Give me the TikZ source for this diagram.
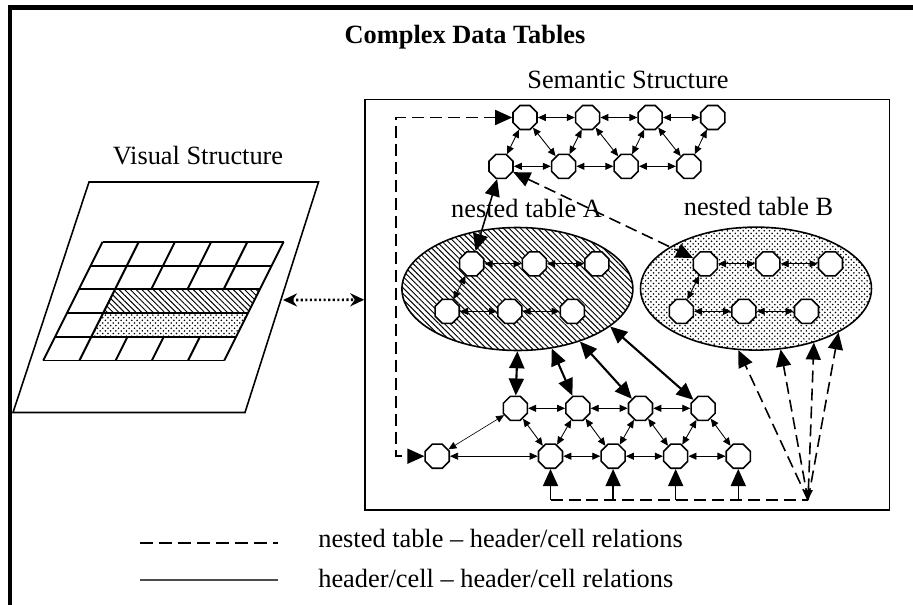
\documentclass[tikz,border=0pt]{standalone}
\usepackage{fontspec}
\setmainfont{Liberation Serif}
\usetikzlibrary{shapes.geometric, arrows.meta, positioning, patterns, patterns.meta}
\tikzstyle{cell} = [regular polygon, regular polygon sides=8, draw, fill=white, minimum size=0.52cm, inner sep=0pt, line width=0.9pt]
\tikzstyle{group} = [ellipse, draw, line width=0.9pt, minimum width=4.62cm, minimum height=2.46cm]
\tikzstyle{hatch} = [pattern={Lines[angle=-45, distance=2.3pt, line width=0.55pt]}]
\tikzstyle{heading} = [anchor=base, font=\fontsize{15}{18}\selectfont\bfseries]
\tikzstyle{textlbl} = [anchor=base, inner sep=0pt]
\tikzstyle{link} = [<->, >={Triangle[length=0.16cm, width=0.14cm]}, line width=0.5pt]
\tikzstyle{thinlink} = [link, line width=0.35pt]
\tikzstyle{bond} = [<->, >={Triangle[length=0.34cm, width=0.3cm]}, line width=1.2pt]
\tikzstyle{nest} = [bond, dash pattern=on 0.24cm off 0.12cm, line width=0.9pt]
\tikzstyle{visual} = [<->, >={Stealth[length=0.28cm, width=0.26cm]}, dash pattern=on 1.2pt off 1.4pt, line width=1.5pt]

\begin{document}
\begin{tikzpicture}[x=0.02cm, y=-0.02cm, node distance=0.74cm, font=\fontsize{15}{18}\selectfont]
  \useasboundingbox (0,0) rectangle (913,605);
  % frame
  \draw [line width=0.1cm] (10,605) -- (10,7.5) -- (913,7.5);
  \node (title) [heading] at (465,43) {Complex Data Tables};

  % visual structure
  \node (vislbl) [textlbl] at (198,164) {Visual Structure};
  \draw [line width=0.9pt] (89,182) -- (318.5,182) -- (245,412.5) -- (13,412.5) -- cycle;
  \begin{scope}[shift={(102.6,241.8)}, xslant=0.5, xscale=36.2, yscale=23.74]
    \fill [hatch] (1,2) rectangle (5,3);
    \fill [pattern=crosshatch dots] (1,3) rectangle (5,4);
    \foreach \j in {0,...,5} \draw [line width=1.1pt] (0,\j) -- (5,\j);
    \foreach \i in {0,1,5} \draw [line width=1.1pt] (\i,0) -- (\i,5);
    \foreach \i in {2,3,4} \draw [line width=1.1pt] (\i,0) -- (\i,2) (\i,4) -- (\i,5);
  \end{scope}
  \coordinate (visR) at (283,300);

  % semantic structure
  \node (semlbl) [textlbl] at (628,88) {Semantic Structure};
  \node (sem) [draw, line width=0.9pt, minimum width=10.49cm, minimum height=8.21cm] at (627.25,304.75) {};
  \draw [visual] (visR) -- ([yshift=0.1cm]sem.west);

  % header rows
  \node (t1) [cell] at (525,117.5) {};
  \node (t2) [cell, right= of t1] {};
  \node (t3) [cell, right= of t2] {};
  \node (t4) [cell, right= of t3] {};
  \node (s1) [cell] at (501,166.3) {};
  \node (s2) [cell, right= of s1] {};
  \node (s3) [cell, right= of s2] {};
  \node (s4) [cell, right= of s3] {};
  \draw [link] (t1) -- (t2);
  \draw [link] (t2) -- (t3);
  \draw [link] (t3) -- (t4);
  \draw [link] (s1) -- (s2);
  \draw [link] (s2) -- (s3);
  \draw [link] (s3) -- (s4);
  \draw [link] (t1) -- (s1);
  \draw [link] (t1) -- (s2);
  \draw [link] (t2) -- (s2);
  \draw [link] (t2) -- (s3);
  \draw [link] (t3) -- (s3);
  \draw [link] (t3) -- (s4);
  \draw [link] (t4) -- (s4);

  % nested table A
  \node (ellA) [group, hatch] at (517.4,289) {};
  \node (lblA) [textlbl] at (526.5,217) {nested table A};
  \node (a1) [cell] at (471.7,263.8) {};
  \node (a2) [cell, right= of a1] {};
  \node (a3) [cell, right= of a2] {};
  \node (a4) [cell] at (447.2,311.3) {};
  \node (a5) [cell, right= of a4] {};
  \node (a6) [cell, right= of a5] {};
  \draw [link] (a1) -- (a2);
  \draw [link] (a2) -- (a3);
  \draw [link] (a4) -- (a5);
  \draw [link] (a5) -- (a6);
  \draw [link] (a1) -- (a4);

  % nested table B
  \node (ellB) [group, pattern=crosshatch dots] at (756,288.6) {};
  \node (lblB) [textlbl] at (758.5,215) {nested table B};
  \node (b1) [cell] at (705.3,263.8) {};
  \node (b2) [cell, right= of b1] {};
  \node (b3) [cell, right= of b2] {};
  \node (b4) [cell] at (681.3,311.3) {};
  \node (b5) [cell, right= of b4] {};
  \node (b6) [cell, right= of b5] {};
  \draw [link] (b1) -- (b2);
  \draw [link] (b2) -- (b3);
  \draw [link] (b4) -- (b5);
  \draw [link] (b5) -- (b6);
  \draw [link] (b1) -- (b4);

  \draw [bond, line width=0.9pt] (s1) -- (a1);
  \draw [nest] (s1) -- (b1);

  % data rows
  \node (root) [cell] at (437.2,456.2) {};
  \node (d1) [cell] at (515.3,408.3) {};
  \node (d2) [cell, right= of d1] {};
  \node (d3) [cell, right= of d2] {};
  \node (d4) [cell, right= of d3] {};
  \node (e1) [cell] at (550.5,456.2) {};
  \node (e2) [cell, right= of e1] {};
  \node (e3) [cell, right= of e2] {};
  \node (e4) [cell, right= of e3] {};
  \draw [link] (d1) -- (d2);
  \draw [link] (d2) -- (d3);
  \draw [link] (d3) -- (d4);
  \draw [link] (e1) -- (e2);
  \draw [link] (e2) -- (e3);
  \draw [link] (e3) -- (e4);
  \draw [link] (d1) -- (e1);
  \draw [link] (d2) -- (e1);
  \draw [link] (d2) -- (e2);
  \draw [link] (d3) -- (e2);
  \draw [link] (d3) -- (e3);
  \draw [link] (d4) -- (e3);
  \draw [link] (d4) -- (e4);
  \draw [thinlink] (root) -- (d1);
  \draw [thinlink] (root) -- (e1);

  \draw [bond] (ellA.-90) -- (d1);
  \draw [bond] (ellA.-60) -- (d2);
  \draw [bond] (ellA.-40) -- (d3);
  \draw [bond] (ellA.-22) -- (d4);

  % nested table relations
  \coordinate (lane) at (396,300);
  \coordinate (hub) at (808,500);
  \draw [nest] (t1.west) -- (t1.west -| lane) |- (root.west);
  \draw [nest, -] (e1 |- hub) -- (hub);
  \draw [bond, ->, line width=0.9pt] (e1 |- hub) -- (e1);
  \draw [bond, ->, line width=0.9pt] (e2 |- hub) -- (e2);
  \draw [bond, ->, line width=0.9pt] (e3 |- hub) -- (e3);
  \draw [bond, ->, line width=0.9pt] (e4 |- hub) -- (e4);
  \draw [nest, ->] (hub) -- (ellB.-106);
  \draw [nest, ->] (hub) -- (ellB.-68);
  \draw [nest, {Triangle[length=0.2cm, width=0.17cm]}-{Triangle[length=0.34cm, width=0.3cm]}] (hub) -- (ellB.-43);
  \draw [nest, ->] (hub) -- (ellB.-28);

  % legend
  \draw [line width=1.1pt, dash pattern=on 0.26cm off 0.12cm] (140,542.7) -- (278,542.7);
  \draw [line width=0.6pt, gray!60!black] (140,580) -- (278,580);
  \node (keyA) [textlbl, anchor=base west] at (318,547) {nested table – header/cell relations};
  \node (keyB) [textlbl, anchor=base west] at (318,587) {header/cell – header/cell relations};
\end{tikzpicture}
\end{document}
